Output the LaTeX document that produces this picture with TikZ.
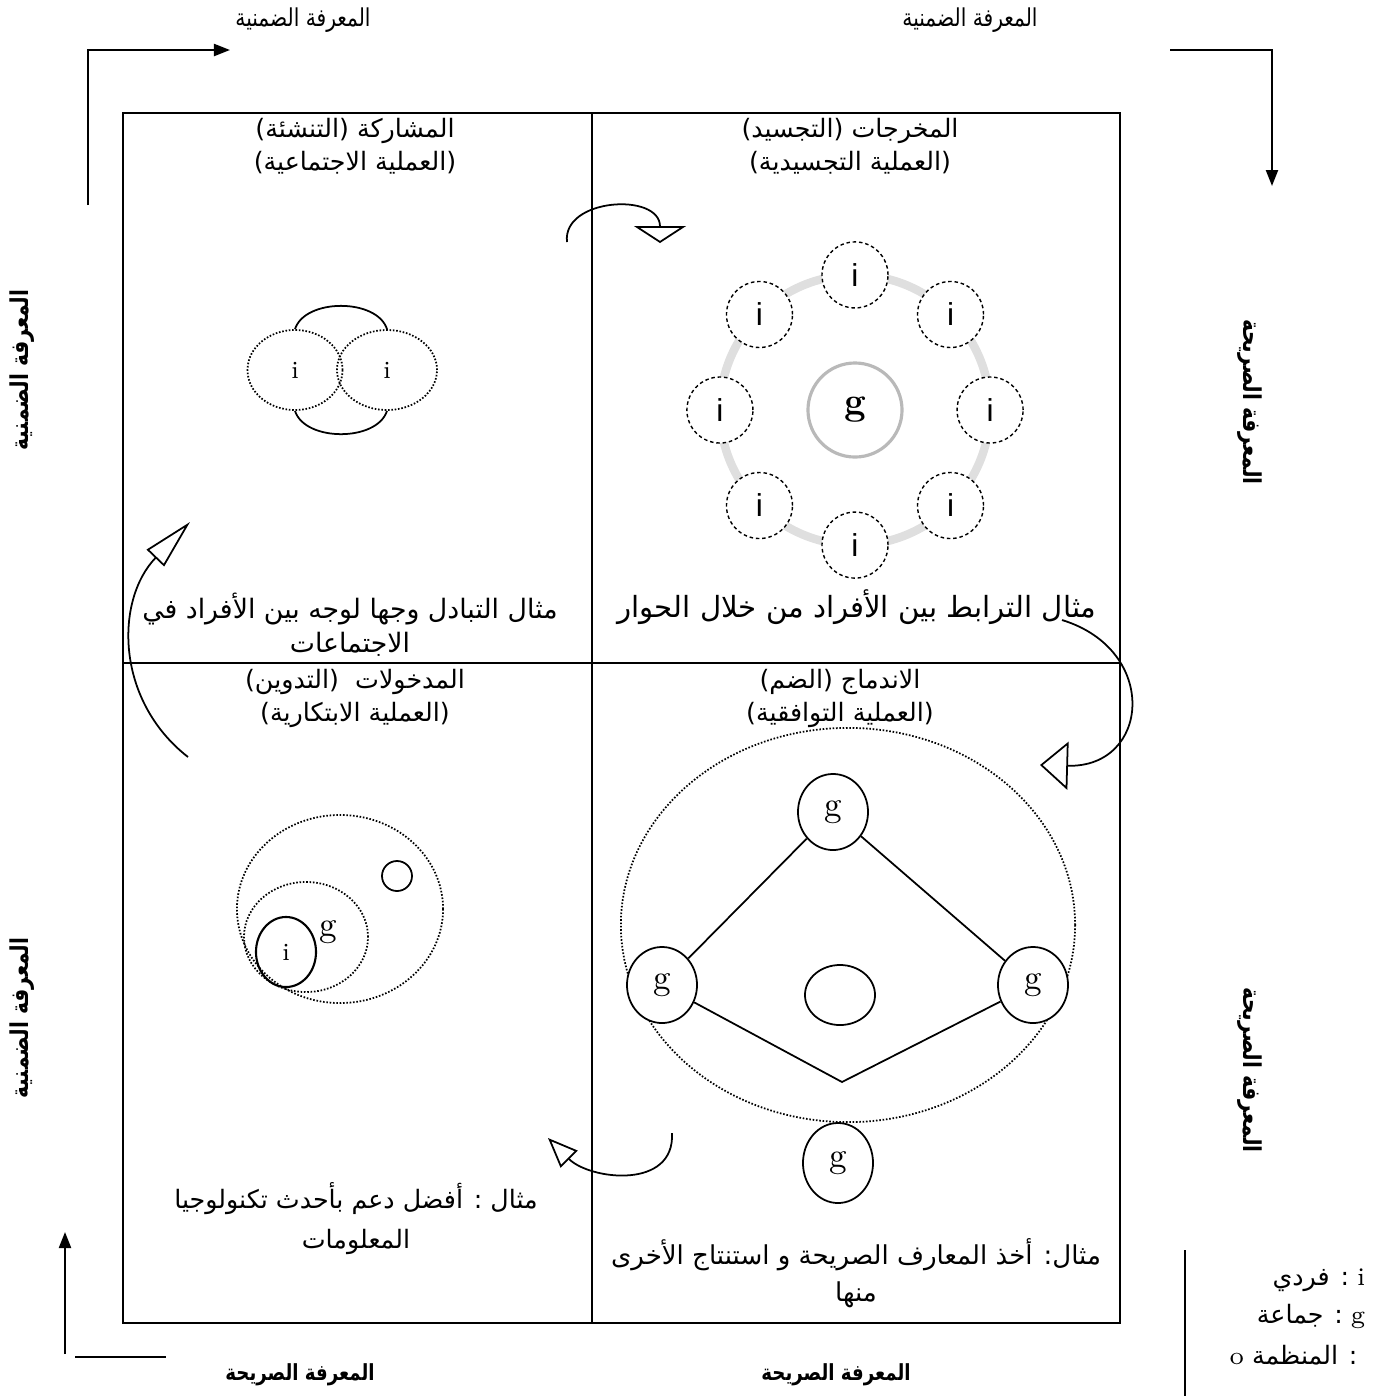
\documentclass[tikz,border=0pt]{standalone}
\usepackage{fontspec}
\newfontfamily\arabicfont[Script=Arabic]{DejaVu Sans}
\newfontfamily\arabicnarrow[Script=Arabic, FakeStretch=0.82]{DejaVu Sans}
\newfontfamily\latinsans{Liberation Sans}
\usetikzlibrary{positioning, calc, arrows.meta, shapes.geometric}
\TeXXeTstate=1
\newcommand{\rl}[1]{\beginR #1\endR}

\tikzset{
  artext/.style={font=\arabicfont\fontsize{7.2}{9.4}\selectfont, align=center, inner sep=0pt},
  toptext/.style={font=\arabicnarrow\fontsize{7}{9}\selectfont, inner sep=0pt},
  bigtext/.style={font=\arabicfont\fontsize{8.3}{12}\selectfont, inner sep=0pt},
  sidetext/.style={font=\arabicnarrow\bfseries\fontsize{7}{9}\selectfont, inner sep=0pt},
  axislabel/.style={font=\arabicnarrow\bfseries\fontsize{6.3}{9}\selectfont, inner sep=0pt},
  axisarrow/.style={line width=0.6pt, -{Triangle[length=0.16cm, width=0.12cm]}},
  turnarrow/.style={line width=0.5pt},
  dots/.style={draw, dash pattern=on 0.45pt off 0.5pt, line width=0.5pt},
  ibub/.style={circle, draw, dash pattern=on 1pt off 0.8pt, line width=0.4pt, fill=white,
    minimum size=0.66cm, inner sep=0pt, font=\latinsans\fontsize{9}{9}\selectfont},
  gnode/.style={ellipse, draw, line width=0.5pt, fill=white, minimum width=0.7cm,
    minimum height=0.76cm, inner sep=0pt, font=\fontsize{10}{10}\selectfont},
}

\begin{document}
\begin{tikzpicture}[x=0.01cm, y=-0.01cm]
    \useasboundingbox (0,0) rectangle (1377,1396);

    % Outer labels
    \node[toptext] (tacitA) at (303,20) {\rl{المعرفة الضمنية}};
    \node[toptext] (tacitB) at (970,20) {\rl{المعرفة الضمنية}};
    \node[sidetext, rotate=90] (tacitC) at (22,370) {\rl{المعرفة الضمنية}};
    \node[sidetext, rotate=90] (tacitD) at (22,1018) {\rl{المعرفة الضمنية}};
    \node[sidetext, rotate=-90] (explA) at (1250,402) {\rl{المعرفة الصريحة}};
    \node[sidetext, rotate=-90] (explB) at (1250,1070) {\rl{المعرفة الصريحة}};
    \node[axislabel] (explC) at (300,1375) {\rl{المعرفة الصريحة}};
    \node[axislabel] (explD) at (836,1375) {\rl{المعرفة الصريحة}};

    % Corner arrows
    \coordinate (tlA) at (88,205);
    \coordinate (tlB) at (230,50);
    \coordinate (trA) at (1170,50);
    \coordinate (trB) at (1272,186);
    \coordinate (blA) at (65,1354);
    \coordinate (blB) at (65,1232);
    \coordinate (blC) at (75,1357);
    \coordinate (blD) at (166,1357);
    \draw[axisarrow] (tlA) |- (tlB);
    \draw[axisarrow] (trA) -| (trB);
    \draw[axisarrow] (blA) -- (blB);
    \draw[line width=0.5pt] (blC) -- (blD);

    % Quadrants
    \coordinate (boxNW) at (123,113);
    \coordinate (boxSE) at (1120,1323);
    \draw[line width=0.6pt] (boxNW) rectangle (boxSE);
    \draw[line width=0.45pt] (592,113) -- (592,1323);
    \draw[line width=0.45pt] (123,663) -- (1120,663);

    % Socialisation
    \node[artext] (socTitle) at (355,146) {\rl{المشاركة (التنشئة)}\\ \rl{(العملية الاجتماعية)}};
    \node[ellipse, dots, minimum width=0.95cm, minimum height=0.8cm, font=\fontsize{7}{7}\selectfont] (indA) at (295,370) {i};
    \node[ellipse, dots, minimum width=1cm, minimum height=0.8cm, font=\fontsize{7}{7}\selectfont] (indB) at (387,370) {i};
    \draw[line width=0.5pt] (indA.north) .. controls +(10,-31) and +(-10,-31) .. (indB.north);
    \draw[line width=0.5pt] (indA.south) .. controls +(10,31) and +(-10,31) .. (indB.south);
    \node[artext, font=\arabicfont\fontsize{7.6}{9.6}\selectfont] (socNote) at (350,625) {\rl{مثال التبادل وجها لوجه بين الأفراد في}\\ \rl{الاجتماعات}};

    % Externalisation
    \node[artext] (extTitle) at (850,146) {\rl{المخرجات (التجسيد)}\\ \rl{(العملية التجسيدية)}};
    \coordinate (ringC) at (855,410);
    \draw[gray!25, line width=2.4pt] (ringC) circle[radius=135];
    \node[circle, draw=gray!55, line width=0.9pt, fill=white, minimum size=0.94cm, inner sep=0pt,
      font=\bfseries\fontsize{11}{11}\selectfont] (grpC) at (ringC) {g};
    \foreach \a [count=\k] in {90,45,0,-45,-90,-135,180,135}
      \node[ibub] (ring\k) at ($(ringC)+(\a:1.35cm)$) {i};
    \node[bigtext] (extNote) at (857,607) {\rl{مثال الترابط بين الأفراد من خلال الحوار}};

    % Combination
    \node[artext] (comTitle) at (840,698) {\rl{الاندماج (الضم)}\\ \rl{(العملية التوافقية)}};
    \node[ellipse, dots, minimum width=4.54cm, minimum height=3.94cm] (orgRing) at (848,925) {};
    \node[gnode] (grpTop) at (833,812) {g};
    \node[gnode] (grpLeft) at (662,985) {g};
    \node[gnode] (grpRight) at (1033,985) {g};
    \node[ellipse, draw, line width=0.5pt, minimum width=0.7cm, minimum height=0.6cm] (grpMid) at (840,995) {};
    \node[gnode, minimum height=0.8cm] (grpBot) at (838,1163) {g};
    \coordinate (dmdBot) at (842,1082);
    \draw[line width=0.5pt] (grpTop) -- (grpLeft);
    \draw[line width=0.5pt] (grpTop) -- (grpRight);
    \draw[line width=0.5pt] (grpLeft) -- (dmdBot) -- (grpRight);
    \node[artext, font=\arabicfont\fontsize{7.4}{10.4}\selectfont] (comNote) at (856,1273) {\rl{مثال: أخذ المعارف الصريحة و استنتاج الأخرى}\\ \rl{منها}};

    % Internalisation
    \node[artext] (intTitle) at (355,698) {\rl{المدخولات \ (التدوين)}\\ \rl{(العملية الابتكارية)}};
    \node[ellipse, dots, minimum width=2.06cm, minimum height=1.88cm] (orgOut) at (340,909) {};
    \node[ellipse, dots, minimum width=1.24cm, minimum height=1.1cm] (grpIn) at (306,937) {};
    \node[ellipse, draw, line width=0.6pt, minimum width=0.6cm, minimum height=0.7cm,
      font=\fontsize{7}{7}\selectfont] (indIn) at (286,952) {i};
    \node[circle, draw, line width=0.5pt, minimum size=0.3cm, inner sep=0pt] (orgIn) at (397,876) {};
    \node[font=\fontsize{10}{10}\selectfont, inner sep=0pt] (grpLbl) at (328,932) {g};
    \node[artext, font=\arabicfont\fontsize{7.2}{11.4}\selectfont] (intNote) at (356,1219) {\rl{مثال : أفضل دعم بأحدث تكنولوجيا}\\ \rl{المعلومات}};

    % Spiral arrows
    \coordinate (spA1) at (567,242);
    \coordinate (spA2) at (660,243);
    \draw[turnarrow, -{Triangle[open, length=0.17cm, width=0.52cm]}] (spA1) .. controls (562,198) and (660,192) .. (spA2);
    \coordinate (spB1) at (1062,620);
    \coordinate (spB2) at (1040,765);
    \draw[turnarrow, -{Triangle[open, length=0.28cm, width=0.48cm]}] (spB1) .. controls (1160,650) and (1150,768) .. (spB2);
    \coordinate (spC1) at (672,1133);
    \coordinate (spC2) at (548,1138);
    \draw[turnarrow, -{Triangle[open, length=0.3cm, width=0.24cm]}] (spC1) .. controls (675,1190) and (590,1180) .. (spC2);
    \coordinate (spD1) at (188,757);
    \coordinate (spD2) at (190,522);
    \draw[turnarrow, -{Triangle[open, length=0.5cm, width=0.24cm]}] (spD1) .. controls (115,700) and (115,600) .. (spD2);

    % Legend
    \coordinate (legA) at (1185,1250);
    \coordinate (legB) at (1185,1396);
    \draw[line width=0.6pt] (legA) -- (legB);
    \node[artext, anchor=east] (legInd) at (1366,1280) {\rl{{\rmfamily i} : فردي}};
    \node[artext, anchor=east] (legGrp) at (1366,1316) {\rl{{\rmfamily g} : جماعة}};
    \node[artext, anchor=east] (legOrg) at (1358,1355) {\rl{: المنظمة {\rmfamily o}}};
\end{tikzpicture}
\end{document}
